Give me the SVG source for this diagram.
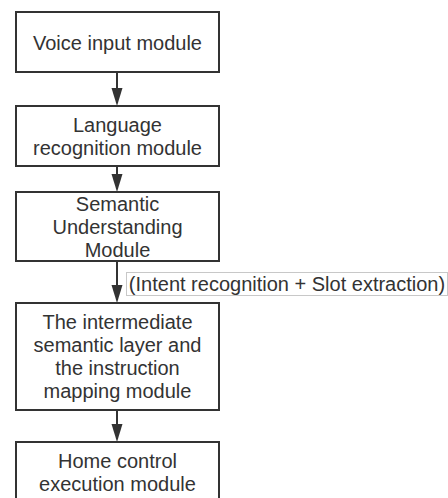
<svg xmlns="http://www.w3.org/2000/svg" width="448" height="498" viewBox="0 0 448 498">
<defs>
<style>
.box{fill:#fff;stroke:#333;stroke-width:2}
.t{font-family:"Liberation Sans",Arial,sans-serif;font-size:20px;fill:#333;text-anchor:middle;dominant-baseline:central}
.c{stroke:#333;stroke-width:2;fill:none}
.lbl{fill:#fff;stroke:#c8c8c8;stroke-width:1}
.ah{fill:#333}
</style>
</defs>
<rect width="448" height="498" fill="#fff"/>
<g id="connectors">
<line class="c" x1="117" y1="72" x2="117" y2="88"/><path class="ah" d="M111.5,88 L122.5,88 L117,106 Z"/>
<line class="c" x1="117" y1="166" x2="117" y2="174"/><path class="ah" d="M111.5,174 L122.5,174 L117,192 Z"/>
<line class="c" x1="117" y1="261" x2="117" y2="285"/><path class="ah" d="M111.5,285 L122.5,285 L117,303 Z"/>
<line class="c" x1="117" y1="410" x2="117" y2="424"/><path class="ah" d="M111.5,424 L122.5,424 L117,442 Z"/>
</g>
<g id="label">
<rect class="lbl" x="126.5" y="272.5" width="321" height="23"/>
<text class="t" x="287" y="284">(Intent recognition + Slot extraction)</text>
</g>
<g id="n1">
<rect class="box" x="16" y="12" width="203" height="60"/>
<text class="t" x="117.5" y="43">Voice input module</text>
</g>
<g id="n2">
<rect class="box" x="16" y="106" width="203" height="60"/>
<text class="t" x="117.5" y="125">Language</text>
<text class="t" x="117.5" y="148">recognition module</text>
</g>
<g id="n3">
<rect class="box" x="16" y="192" width="203" height="69"/>
<text class="t" x="117.5" y="204">Semantic</text>
<text class="t" x="117.5" y="227">Understanding</text>
<text class="t" x="117.5" y="250">Module</text>
</g>
<g id="n4">
<rect class="box" x="16" y="303" width="203" height="107"/>
<text class="t" x="117.5" y="322">The intermediate</text>
<text class="t" x="117.5" y="345">semantic layer and</text>
<text class="t" x="117.5" y="368">the instruction</text>
<text class="t" x="117.5" y="391">mapping module</text>
</g>
<g id="n5">
<rect class="box" x="16" y="442" width="203" height="70"/>
<text class="t" x="117.5" y="461">Home control</text>
<text class="t" x="117.5" y="484">execution module</text>
</g>
</svg>
